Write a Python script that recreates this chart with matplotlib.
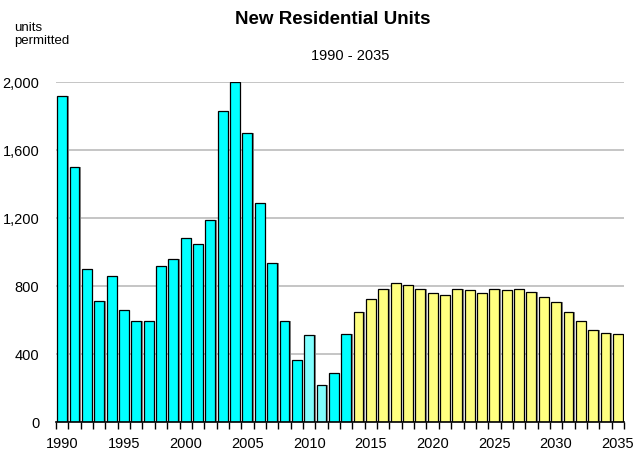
import matplotlib
matplotlib.use("Agg")
import matplotlib.pyplot as plt
from matplotlib.ticker import FuncFormatter, FixedLocator
import numpy as np

years = list(range(1990, 2036))
units = [
    1920, 1500, 900, 710, 860, 660, 595, 595, 915, 960,
    1080, 1050, 1190, 1830, 2000, 1700, 1290, 935, 595, 365,
    510, 220, 290, 520, 645, 725, 780, 820, 805, 780,
    760, 750, 780, 777, 760, 782, 775, 780, 765, 737,
    704, 645, 592, 543, 522, 516,
]
light_years = [2010, 2011]
forecast_start = 2014
tick_years = list(range(1990, 2036, 5))

CYAN = "#00FFFF"
LIGHT_CYAN = "#80FFFF"
YELLOW = "#FFFF80"

plt.rcParams["font.family"] = ["Liberation Sans", "DejaVu Sans"]

colors = []
for y in years:
    if y >= forecast_start:
        colors.append(YELLOW)
    elif y in light_years:
        colors.append(LIGHT_CYAN)
    else:
        colors.append(CYAN)

fig = plt.figure(figsize=(6.44, 4.51), dpi=100)
ax = fig.add_axes([0.087, 0.0643, 0.882, 0.7537])

x = np.arange(len(years))
# thin grey drop shadow on the right of each bar
ax.bar(x + 0.12, units, width=0.8, color="#8a8a8a", edgecolor="none", zorder=2)
ax.bar(x, units, width=0.8, color=colors, edgecolor="black", linewidth=0.9, zorder=3)

ax.set_xlim(-0.5, len(years) - 0.5)
ax.set_ylim(0, 2000)
ax.set_yticks(range(0, 2001, 400))
ax.yaxis.set_major_formatter(FuncFormatter(lambda v, _: f"{int(v):,}"))
ax.grid(axis="y", color="#c0c0c0", linewidth=1.3, zorder=0)
ax.tick_params(axis="y", length=0, pad=12, labelsize=10.5)

ax.set_xticks([years.index(t) for t in tick_years])
ax.set_xticklabels([str(t) for t in tick_years])
ax.tick_params(axis="x", which="major", length=0, pad=11, labelsize=10.5)
ax.xaxis.set_minor_locator(FixedLocator(np.arange(-0.5, len(years), 1.0)))
ax.tick_params(axis="x", which="minor", length=5, width=1, color="black", direction="out")

for side in ("left", "right", "top"):
    ax.spines[side].set_visible(False)
ax.spines["bottom"].set_color("black")
ax.spines["bottom"].set_linewidth(1.2)
ax.spines["bottom"].set_zorder(4)

fig.text(0.517, 0.957, "New Residential Units", ha="center", va="center",
         fontsize=13.5, fontweight="bold")
fig.text(0.544, 0.876, "1990 - 2035", ha="center", va="center", fontsize=10.5)
fig.text(0.022, 0.952, "units\npermitted", ha="left", va="top", fontsize=9.5,
         linespacing=1.2)

fig.savefig("out.png", dpi=100)
